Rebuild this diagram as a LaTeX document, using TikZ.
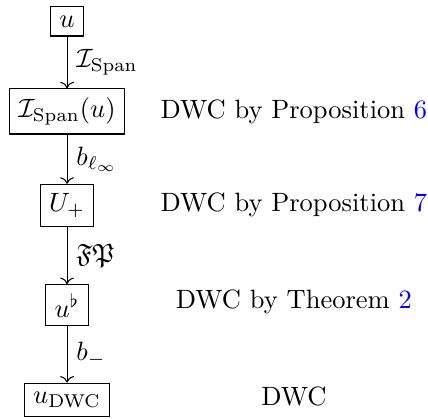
\documentclass[tikz,border=0pt]{standalone}
\usepackage{amsmath,amssymb}
\usepackage{tikz}
\usetikzlibrary{arrows.meta}

\begin{document}
\begin{tikzpicture}[box/.style={draw}, note/.style={anchor=center}]
        \useasboundingbox (0,0) rectangle (5.68,-5.56);
        % chain of maps
        \node[box] (u)     at (0.89,-0.285) {$u$};
        \node[box] (ispan) at (0.89,-1.479) {$\mathcal{I}_{\mathrm{Span}}(u)$};
        \node[box] (uplus) at (0.89,-2.725) {$U_+$};
        \node[box] (uflat) at (0.89,-4.051) {$u^\flat$};
        \node[box] (udwc)  at (0.89,-5.304) {$u_{\mathrm{DWC}}$};
        \draw[->] (u) -- node[right] {$\mathcal{I}_{\mathrm{Span}}$} (ispan);
        \draw[->] (ispan) -- node[right] {$b_{\ell_\infty}$} (uplus);
        \draw[->] (uplus) -- node[right] {$\mathfrak{FP}$} (uflat);
        \draw[->] (uflat) -- node[right] {$b_-$} (udwc);
        % remarks
        \node[note] (r1) at (3.9,-1.479) {DWC by Proposition \textcolor{blue}{6}};
        \node[note] (r2) at (3.9,-2.725) {DWC by Proposition \textcolor{blue}{7}};
        \node[note] (r3) at (3.9,-4.0) {DWC by Theorem \textcolor{blue}{2}};
        \node[note] (r4) at (3.9,-5.26) {DWC};
      \end{tikzpicture}
\end{document}
